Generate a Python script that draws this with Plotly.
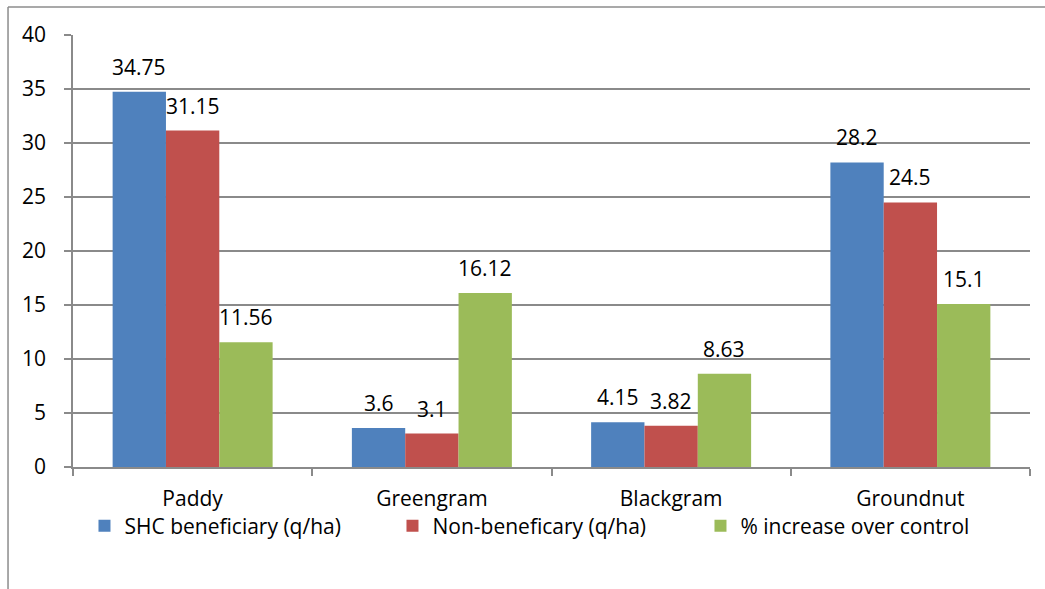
import plotly.graph_objects as go

# Crop yield comparison under the Soil Health Card scheme
crops = ["Paddy", "Greengram", "Blackgram", "Groundnut"]
shc_beneficiary = [34.75, 3.6, 4.15, 28.2]
non_beneficiary = [31.15, 3.1, 3.82, 24.5]
pct_increase = [11.56, 16.12, 8.63, 15.1]

series_names = ["SHC beneficiary (q/ha)", "Non-beneficary (q/ha)", "% increase over control"]
series_values = [shc_beneficiary, non_beneficiary, pct_increase]
series_colors = ["#4F81BD", "#C0504D", "#9BBB59"]

y_ticks = [0, 5, 10, 15, 20, 25, 30, 35, 40]

FONT = "Open Sans"
GRID = "#8a8a8a"

x_pos = list(range(len(crops)))
fig = go.Figure()
bar_w = 0.2229
for k, (name, vals, col) in enumerate(zip(series_names, series_values, series_colors)):
    fig.add_trace(go.Bar(
        x=x_pos, y=vals, name=name, width=bar_w,
        offset=(k - 1.5) * bar_w,
        marker=dict(color=col, line=dict(width=0)),
    ))

# value labels sitting above each bar
annotations = []
for k, vals in enumerate(series_values):
    for i, v in enumerate(vals):
        annotations.append(dict(
            x=i + (k - 1) * bar_w, y=v, xref="x", yref="y",
            text=f"{v:g}", showarrow=False, yshift=25, yanchor="middle",
            font=dict(family=FONT, size=21, color="black"),
        ))

shapes = [
    # chart frame (left and top edges)
    dict(type="line", xref="paper", yref="paper", x0=-0.0679, x1=-0.0679, y0=1.0648, y1=-0.3,
         line=dict(color="#8c8c8c", width=1.5)),
    dict(type="line", xref="paper", yref="paper", x0=-0.0679, x1=1.05, y0=1.0648, y1=1.0648,
         line=dict(color="#8c8c8c", width=1.5)),
]

fig.update_layout(
    width=1045, height=589,
    margin=dict(l=73, r=15, t=35, b=122),
    paper_bgcolor="white", plot_bgcolor="white",
    font=dict(family=FONT, size=21, color="black"),
    showlegend=True,
    legend=dict(
        orientation="h", x=0.012, xanchor="left", y=-0.137, yanchor="middle",
        entrywidth=263, entrywidthmode="pixels",
        font=dict(family=FONT, size=21, color="black"),
        bgcolor="rgba(0,0,0,0)", traceorder="normal",
    ),
    annotations=annotations,
    shapes=shapes,
    xaxis=dict(
        range=[-0.5, 3.5], tickvals=x_pos, ticktext=crops, ticks="",
        showline=True, linecolor=GRID, linewidth=1.5, showgrid=False, zeroline=False,
        ticklabelstandoff=12,
        minor=dict(tickmode="linear", tick0=-0.5, dtick=1, ticks="outside",
                   ticklen=7, tickcolor=GRID, tickwidth=1.5, showgrid=False),
    ),
    yaxis=dict(
        range=[0, 40], tickvals=y_ticks, ticks="outside", ticklen=7,
        tickcolor=GRID, tickwidth=1.5,
        showline=True, linecolor=GRID, linewidth=1.5,
        showgrid=True, gridcolor=GRID, gridwidth=1.5, zeroline=False,
        ticklabelstandoff=14,
    ),
)

fig.write_html("out.html")
